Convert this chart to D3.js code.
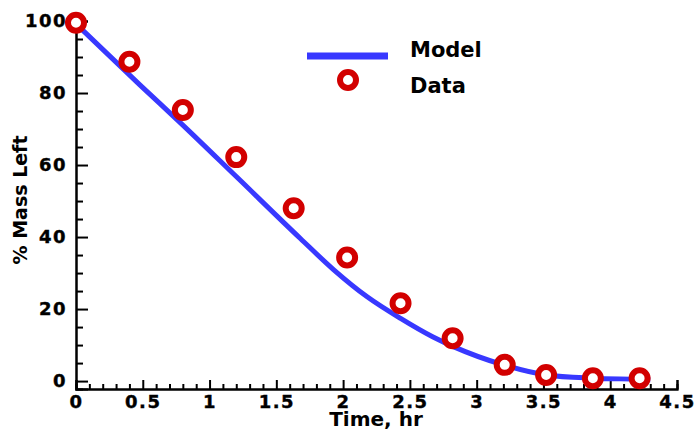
<!DOCTYPE html>
<html>
<head>
<meta charset="utf-8">
<script src="https://cdn.jsdelivr.net/npm/d3@7"></script>
<style>
  body { margin: 0; background: #fff; }
  text { font-family: 'DejaVu Sans', sans-serif; font-weight: bold; fill: #000; }
</style>
</head>
<body>
<script>
// model curve
var modelTime = [0.02, 0.48, 0.8, 1.2, 1.68, 1.93, 2.18, 2.43, 2.67, 2.83, 3.2, 3.52, 3.87, 4.22, 4.3];
var modelMass = [98.5, 82.2, 71.1, 56.8, 39.6, 30.9, 23.4, 17.4, 12.3, 9.5, 4.5, 1.7, 0.8, 0.5, 0.4];

// measured points
var dataTime = [0, 0.4, 0.8, 1.2, 1.63, 2.03, 2.43, 2.82, 3.21, 3.52, 3.87, 4.22];
var dataMass = [99.5, 88.7, 75.3, 62.2, 48.0, 34.3, 21.6, 11.9, 4.5, 1.7, 0.8, 0.8];

var xTicks = [0, 0.5, 1, 1.5, 2, 2.5, 3, 3.5, 4, 4.5];
var yTicks = [0, 20, 40, 60, 80, 100];

var svg = d3.select('body').append('svg').attr('width', 697).attr('height', 431);

var x = d3.scaleLinear().domain([0, 4.5]).range([76, 677]);
var y = d3.scaleLinear().domain([-2.2, 100]).range([389, 21]);

var blue = '#3838ff';
var red = '#d20000';

function styleAxis(g) {
  g.selectAll('path.domain').attr('stroke', '#000').attr('stroke-width', 2);
  g.selectAll('line').attr('stroke', '#000').attr('stroke-width', 2);
  g.selectAll('text').attr('font-size', '18px').attr('letter-spacing', '1.5px').attr('fill', '#000')
    .attr('stroke', '#000').attr('stroke-width', 0.4)
    .attr('font-family', 'DejaVu Sans').attr('font-weight', 'bold');
}

// x axis (ticks point up, into the plot)
var xMinor = d3.range(0, 4.501, 0.1).filter(function (d) { return Math.abs(d * 2 - Math.round(d * 2)) > 0.01; });
var gx = svg.append('g').attr('transform', 'translate(0,389)');
gx.call(d3.axisBottom(x).tickValues(xMinor).tickSize(-5).tickFormat(''));
gx.append('g').call(d3.axisBottom(x).tickValues(xTicks).tickSize(-9).tickPadding(6).tickFormat(d3.format('')));
styleAxis(gx);

// y axis (ticks point right)
var yMinor = d3.range(0, 101, 5).filter(function (d) { return d % 20 !== 0; });
var gy = svg.append('g').attr('transform', 'translate(76,0)');
gy.call(d3.axisLeft(y).tickValues(yMinor).tickSize(-7).tickFormat(''));
gy.append('g').call(d3.axisLeft(y).tickValues(yTicks).tickSize(-12).tickPadding(8));
styleAxis(gy);
gy.selectAll('.tick text').attr('x', -9);

// model line
var model = modelTime.map(function (t, i) { return [t, modelMass[i]]; });
var line = d3.line()
  .x(function (d) { return x(d[0]); })
  .y(function (d) { return y(d[1]); })
  .curve(d3.curveMonotoneX);

svg.append('path')
  .datum(model)
  .attr('d', line)
  .attr('fill', 'none')
  .attr('stroke', blue)
  .attr('stroke-width', 5);

// data markers
svg.selectAll('circle.pt')
  .data(dataTime)
  .enter()
  .append('circle')
  .attr('class', 'pt')
  .attr('cx', function (d) { return x(d); })
  .attr('cy', function (d, i) { return y(dataMass[i]); })
  .attr('r', 8)
  .attr('fill', '#fff')
  .attr('stroke', red)
  .attr('stroke-width', 6);

// legend
svg.append('line')
  .attr('x1', 307).attr('x2', 388).attr('y1', 56).attr('y2', 56)
  .attr('stroke', blue).attr('stroke-width', 7);
svg.append('circle')
  .attr('cx', 348).attr('cy', 80).attr('r', 8)
  .attr('fill', '#fff').attr('stroke', red).attr('stroke-width', 6);
svg.append('text').attr('x', 410).attr('y', 57).attr('font-size', '21px').text('Model');
svg.append('text').attr('x', 410).attr('y', 93).attr('font-size', '21px').text('Data');

// axis titles
svg.append('text')
  .attr('x', 376).attr('y', 426)
  .attr('text-anchor', 'middle')
  .attr('font-size', '20px')
  .text('Time, hr');

svg.append('text')
  .attr('transform', 'translate(27,200) rotate(-90)')
  .attr('text-anchor', 'middle')
  .attr('font-size', '19px')
  .text('% Mass Left');
</script>
</body>
</html>
